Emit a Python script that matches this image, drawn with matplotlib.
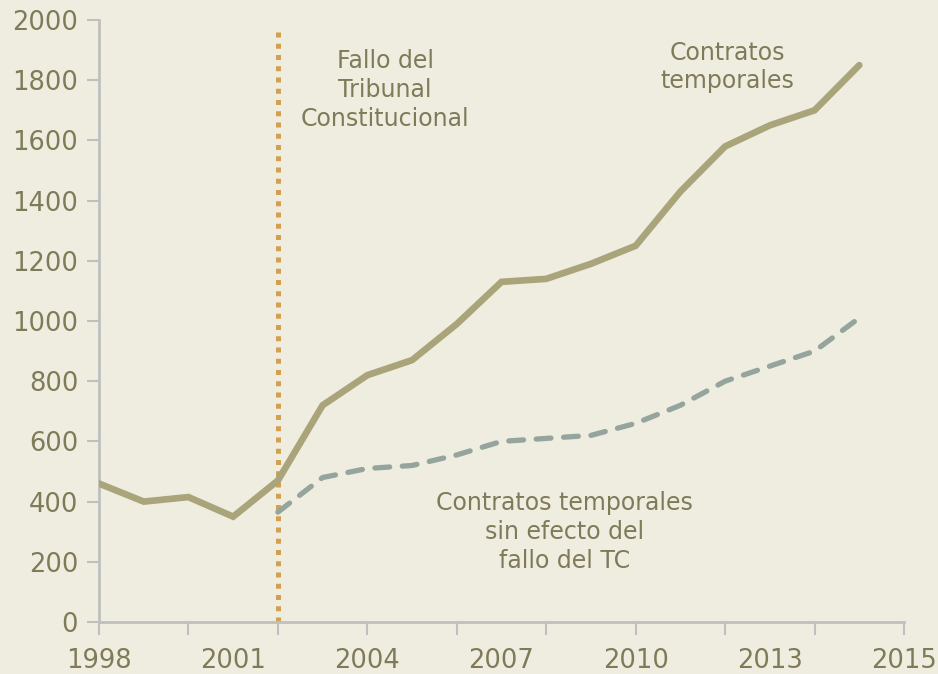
import matplotlib
matplotlib.use("Agg")
import matplotlib.pyplot as plt

# Data: temporary contracts (solid) and the counterfactual without the TC ruling (dashed)
years = list(range(1998, 2016))
contratos_temporales = [460, 400, 415, 350, 470, 720, 820, 870, 990, 1130,
                        1140, 1190, 1250, 1430, 1580, 1650, 1700, 1850]
sin_efecto_years = list(range(2002, 2016))
sin_efecto_fallo = [365, 480, 510, 520, 555, 600, 610, 620, 660, 720,
                    800, 850, 900, 1010]
fallo_year = 2002

x_tick_labels = ["1998", "2001", "2004", "2007", "2010", "2013", "2015"]
y_ticks = list(range(0, 2001, 200))

BG = "#efede0"
TXT = "#7f7a58"
SOLID = "#a9a47a"
DASH = "#95a59d"
DOT = "#d2a050"
AXIS = "#bfbfbf"

font = ["DejaVu Sans"]

fig = plt.figure(figsize=(9.38, 6.74), dpi=100, facecolor=BG)
ax = fig.add_axes([99 / 938, 52 / 674, 805 / 938, 602 / 674], facecolor=BG)

x0 = years[0]
ax.plot([y - x0 for y in years], contratos_temporales, color=SOLID, lw=4.8,
        solid_joinstyle="miter", solid_capstyle="round", zorder=3)
ax.plot([y - x0 for y in sin_efecto_years], sin_efecto_fallo, color=DASH, lw=3.8,
        dashes=(2.8, 2.4), dash_capstyle="round", zorder=3)
ax.plot([fallo_year - x0] * 2, [0, 1960], color=DOT, lw=3.6,
        dashes=(1.0, 1.25), zorder=2)

ax.set_xlim(0, 18)
ax.set_ylim(0, 2000)
ax.xaxis.remove_overlapping_locs = False
# labels every 3 positions, tick marks every 2
ax.set_xticks(range(0, 19, 3))
ax.set_xticklabels(x_tick_labels, family=font, fontsize=18.5, color=TXT)
ax.tick_params(axis="x", which="major", length=0, pad=19)
ax.set_xticks(range(0, 19, 2), minor=True)
ax.tick_params(axis="x", which="minor", length=9, width=1.5, color=AXIS, direction="out")
ax.set_yticks(y_ticks)
ax.set_yticklabels([str(v) for v in y_ticks], family=font, fontsize=18.5, color=TXT)
ax.tick_params(axis="y", length=9, width=1.5, color=AXIS, pad=6)

for side in ("top", "right"):
    ax.spines[side].set_visible(False)
for side in ("left", "bottom"):
    ax.spines[side].set_color(AXIS)
    ax.spines[side].set_linewidth(2)

ax.text(6.4, 1767, "Fallo del\nTribunal\nConstitucional", ha="center", va="center",
        fontsize=17, color=TXT, family=font, linespacing=1.25)
ax.text(14.05, 1844, "Contratos\ntemporales", ha="center", va="center",
        fontsize=17, color=TXT, family=font, linespacing=1.25)
ax.text(10.4, 299, "Contratos temporales\nsin efecto del\nfallo del TC", ha="center",
        va="center", fontsize=17, color=TXT, family=font, linespacing=1.25)

fig.savefig("out.png", dpi=100, facecolor=BG)
